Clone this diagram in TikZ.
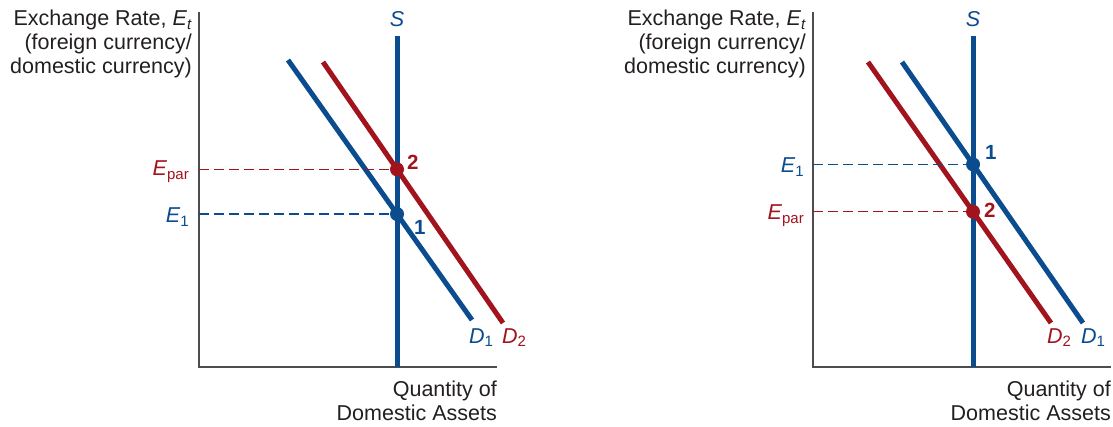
\documentclass[tikz,border=0pt]{standalone}
\usepackage{fontspec}
\setmainfont{Liberation Sans}
\definecolor{eblue}{HTML}{0B4C8F}
\definecolor{ered}{HTML}{A2141D}
\definecolor{etext}{HTML}{231F20}
\definecolor{eaxis}{HTML}{4D4D4F}
\newcommand\lowsub[1]{\raisebox{-4pt}{\fontsize{15}{15}\selectfont #1}}
\tikzset{
  axisline/.style={draw=eaxis, line width=1.5pt},
  bluecurve/.style={draw=eblue, line width=5pt},
  redcurve/.style={draw=ered, line width=5pt},
  guideblue/.style={draw=eblue, line width=1.4pt, dash pattern=on 9.5pt off 5.5pt},
  guidered/.style={draw=ered, line width=1.4pt, dash pattern=on 9.5pt off 5.5pt},
  eqdot/.style={circle, inner sep=0pt, minimum size=14pt},
  txt/.style={text=etext, font=\fontsize{21.5}{24}\selectfont, inner sep=0pt, anchor=base east},
  lab/.style={font=\fontsize{21.5}{24}\selectfont, inner sep=0pt},
  ptlabel/.style={font=\bfseries\fontsize{20.5}{20.5}\selectfont, inner sep=0pt, anchor=base west},
}
\begin{document}
\begin{tikzpicture}[x=1pt,y=-1pt]
\useasboundingbox (0,0) rectangle (1113,427);
% ---------------- left panel ----------------
\coordinate (Ly) at (199,12);
\coordinate (Lo) at (199,367);
\coordinate (Lx) at (497,367);
\coordinate (LSt) at (397,36);
\coordinate (LSb) at (397,367);
\coordinate (LD1a) at (288,60);
\coordinate (LD1b) at (472,320);
\coordinate (LD2a) at (323,62);
\coordinate (LD2b) at (503,323);
\draw[axisline] (Ly) -- (Lo) -- (Lx);
\draw[bluecurve] (LSt) -- (LSb);
\draw[bluecurve] (LD1a) -- (LD1b);
\draw[redcurve] (LD2a) -- (LD2b);
\coordinate (L1) at (intersection of LD1a--LD1b and LSt--LSb);
\coordinate (L2) at (intersection of LD2a--LD2b and LSt--LSb);
\draw[guideblue] (Lo |- L1) -- (L1);
\draw[guidered] (Lo |- L2) -- (L2);
\node[eqdot, fill=eblue] (L1dot) at (L1) {};
\node[eqdot, fill=ered] (L2dot) at (L2) {};
\node[ptlabel, text=eblue] (L1lab) at (414,235) {1};
\node[ptlabel, text=ered] (L2lab) at (407,170) {2};
\node[lab, text=eblue, anchor=base] (LSlab) at (397,27) {\textit{S}};
\node[lab, text=eblue, anchor=base west] (LD1lab) at (469,343) {\textit{D}\lowsub{1}};
\node[lab, text=ered, anchor=base west] (LD2lab) at (502,343) {\textit{D}\lowsub{2}};
\node[lab, text=ered, anchor=base east] (LEpar) at (189,176) {\textit{E}\lowsub{par}};
\node[lab, text=eblue, anchor=base east] (LE1) at (189,223) {\textit{E}\lowsub{1}};
\node[txt] (Lt1) at (192,26) {Exchange Rate, \textit{E}\lowsub{\textit{t}}};
\node[txt] (Lt2) at (192,50) {(foreign currency/};
\node[txt] (Lt3) at (192,74) {domestic currency)};
\node[txt] (Lq1) at (497,396) {Quantity of};
\node[txt] (Lq2) at (497,420) {Domestic Assets};
% ---------------- right panel ----------------
\coordinate (Ry) at (813,12);
\coordinate (Ro) at (813,367);
\coordinate (Rx) at (1111,367);
\coordinate (RSt) at (973,36);
\coordinate (RSb) at (973,367);
\coordinate (RD1a) at (902,62);
\coordinate (RD1b) at (1083,323);
\coordinate (RD2a) at (868,62);
\coordinate (RD2b) at (1051,323);
\draw[axisline] (Ry) -- (Ro) -- (Rx);
\draw[bluecurve] (RSt) -- (RSb);
\draw[bluecurve] (RD1a) -- (RD1b);
\draw[redcurve] (RD2a) -- (RD2b);
\coordinate (R1) at (intersection of RD1a--RD1b and RSt--RSb);
\coordinate (R2) at (intersection of RD2a--RD2b and RSt--RSb);
\draw[guideblue] (Ro |- R1) -- (R1);
\draw[guidered] (Ro |- R2) -- (R2);
\node[eqdot, fill=eblue] (R1dot) at (R1) {};
\node[eqdot, fill=ered] (R2dot) at (R2) {};
\node[ptlabel, text=eblue] (R1lab) at (985,160) {1};
\node[ptlabel, text=ered] (R2lab) at (984,218) {2};
\node[lab, text=eblue, anchor=base] (RSlab) at (973,27) {\textit{S}};
\node[lab, text=ered, anchor=base west] (RD2lab) at (1047,343) {\textit{D}\lowsub{2}};
\node[lab, text=eblue, anchor=base west] (RD1lab) at (1081,343) {\textit{D}\lowsub{1}};
\node[lab, text=eblue, anchor=base east] (RE1) at (804,173) {\textit{E}\lowsub{1}};
\node[lab, text=ered, anchor=base east] (REpar) at (804,220) {\textit{E}\lowsub{par}};
\node[txt] (Rt1) at (806,26) {Exchange Rate, \textit{E}\lowsub{\textit{t}}};
\node[txt] (Rt2) at (806,50) {(foreign currency/};
\node[txt] (Rt3) at (806,74) {domestic currency)};
\node[txt] (Rq1) at (1111,396) {Quantity of};
\node[txt] (Rq2) at (1111,420) {Domestic Assets};
\end{tikzpicture}
\end{document}
